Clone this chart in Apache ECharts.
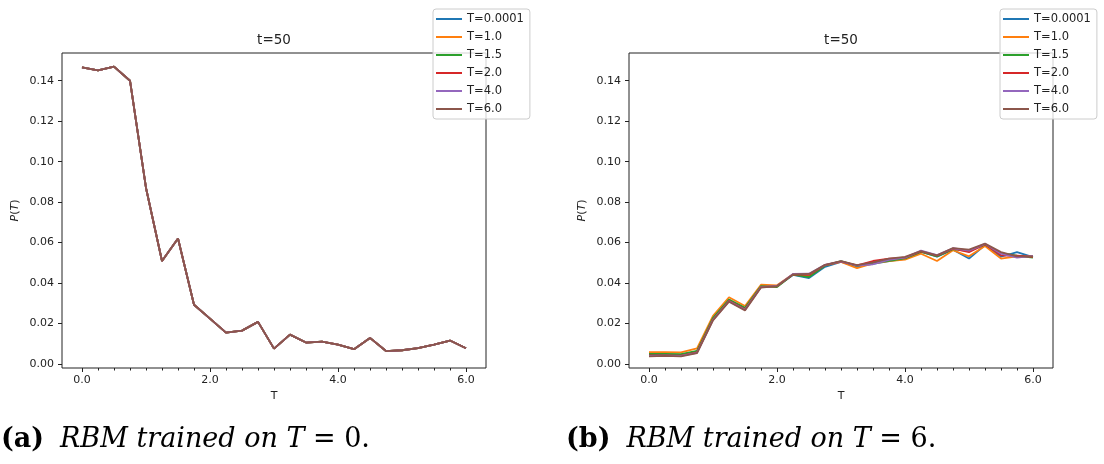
<!DOCTYPE html>
<html>
<head>
<meta charset="utf-8">
<script src="https://cdn.jsdelivr.net/npm/echarts@6/dist/echarts.min.js"></script>
<style>
html,body{margin:0;padding:0;background:#fff;}
#chart{width:1104px;height:464px;}
</style>
</head>
<body>
<div id="chart"></div>
<script>
// ---- data ----
const xs = [0,0.25,0.5,0.75,1.0,1.25,1.5,1.75,2.0,2.25,2.5,2.75,3.0,3.25,3.5,3.75,4.0,4.25,4.5,4.75,5.0,5.25,5.5,5.75,6.0];
const seriesNames = ['T=0.0001','T=1.0','T=1.5','T=2.0','T=4.0','T=6.0'];
const seriesColors = ['#1f77b4','#ff7f0e','#2ca02c','#d62728','#9467bd','#8c564b'];
const xTickLabels = [0,2,4,6];
const yTickLabels = [0,0.02,0.04,0.06,0.08,0.10,0.12,0.14];

// (a) RBM trained on T=0: all curves coincide
const leftCurve = [0.1466,0.1451,0.1470,0.1400,0.0870,0.0509,0.0620,0.0293,0.0224,0.0155,0.0165,0.0208,0.0076,0.0145,0.0106,0.0111,0.0096,0.0073,0.0129,0.0064,0.0068,0.0078,0.0096,0.0116,0.0078];

// (b) RBM trained on T=6
const right_T0001 = [0.0045,0.0046,0.0045,0.0062,0.0225,0.0316,0.0275,0.0383,0.0384,0.0440,0.0425,0.0480,0.0505,0.0482,0.0495,0.0509,0.0520,0.0555,0.0530,0.0565,0.0521,0.0588,0.0530,0.0553,0.0528];
const right_T1 = [0.0059,0.0059,0.0057,0.0077,0.0238,0.0330,0.0287,0.0392,0.0389,0.0443,0.0438,0.0488,0.0505,0.0474,0.0497,0.0509,0.0516,0.0545,0.0509,0.0562,0.0532,0.0583,0.0521,0.0532,0.0530];
const right_T15 = [0.0050,0.0050,0.0049,0.0065,0.0228,0.0318,0.0278,0.0385,0.0380,0.0442,0.0430,0.0486,0.0508,0.0485,0.0500,0.0510,0.0522,0.0554,0.0532,0.0568,0.0558,0.0590,0.0548,0.0535,0.0526];
const right_T2 = [0.0042,0.0043,0.0041,0.0058,0.0220,0.0312,0.0270,0.0381,0.0384,0.0443,0.0440,0.0489,0.0506,0.0487,0.0509,0.0521,0.0525,0.0557,0.0535,0.0570,0.0553,0.0592,0.0537,0.0535,0.0530];
const right_T4 = [0.0040,0.0041,0.0040,0.0055,0.0218,0.0310,0.0268,0.0380,0.0386,0.0445,0.0446,0.0490,0.0507,0.0486,0.0493,0.0515,0.0526,0.0560,0.0538,0.0572,0.0560,0.0594,0.0545,0.0526,0.0534];
const right_T6 = [0.0038,0.0040,0.0038,0.0054,0.0216,0.0308,0.0265,0.0378,0.0385,0.0443,0.0445,0.0490,0.0508,0.0489,0.0502,0.0521,0.0529,0.0558,0.0537,0.0573,0.0565,0.0595,0.0553,0.0532,0.0532];
const rightCurves = [right_T0001,right_T1,right_T15,right_T2,right_T4,right_T6];

// ---- chart ----
const FONT = 'DejaVu Sans';
const INK = '#222';
const chart = echarts.init(document.getElementById('chart'), null, {renderer:'canvas'});

function pairs(vals){ return xs.map((x,i)=>[x, vals[i]]); }

function xAxes(g){
  return [
    {gridIndex:g, type:'value', min:-0.3125, max:6.3125, position:'bottom',
     axisLine:{show:false, onZero:false}, splitLine:{show:false},
     axisTick:{show:true, customValues:xTickLabels, length:4, lineStyle:{color:INK, width:1}},
     axisLabel:{customValues:xTickLabels, formatter:v=>v.toFixed(1), margin:7, fontFamily:FONT, fontSize:11, color:INK},
     name:'T', nameLocation:'middle', nameGap:23, nameTextStyle:{fontFamily:FONT, fontSize:11, color:INK}},
    {gridIndex:g, type:'value', min:-0.3125, max:6.3125, position:'bottom',
     axisLine:{show:false, onZero:false}, splitLine:{show:false}, axisLabel:{show:false},
     axisTick:{show:true, customValues:xs, length:2.5, lineStyle:{color:INK, width:1}}}
  ];
}
function yAxis(g){
  return {gridIndex:g, type:'value', min:-0.00198, max:0.1537, position:'left',
    axisLine:{show:false, onZero:false}, splitLine:{show:false},
    axisTick:{show:true, customValues:yTickLabels, length:4, lineStyle:{color:INK, width:1}},
    axisLabel:{customValues:yTickLabels, formatter:v=>v.toFixed(2), margin:8, fontFamily:FONT, fontSize:11, color:INK},
    name:'{i|P}({i|T})', nameLocation:'middle', nameGap:41, nameRotate:90,
    nameTextStyle:{fontFamily:FONT, fontSize:11, color:INK, rich:{i:{fontStyle:'italic', fontFamily:FONT, fontSize:11, color:INK}}}};
}
function legend(left){
  return {left:left, top:9, orient:'vertical', icon:'rect', itemWidth:26, itemHeight:2, itemGap:4,
    data:seriesNames, padding:[3,6,3,3], borderColor:'#ccc', borderWidth:1, borderRadius:3,
    backgroundColor:'rgba(255,255,255,0.8)',
    textStyle:{fontFamily:FONT, fontSize:11.5, lineHeight:14, color:INK}};
}

const series = [];
seriesNames.forEach((n,i)=>{
  series.push({name:n, type:'line', xAxisIndex:0, yAxisIndex:0, data:pairs(leftCurve),
    symbol:'none', lineStyle:{color:seriesColors[i], width:1.8}, itemStyle:{color:seriesColors[i]}, z:2+i});
});
seriesNames.forEach((n,i)=>{
  series.push({name:n, type:'line', xAxisIndex:2, yAxisIndex:1, data:pairs(rightCurves[i]),
    symbol:'none', lineStyle:{color:seriesColors[i], width:1.8}, itemStyle:{color:seriesColors[i]}, z:2+i});
});

const capRich = {
  b:{fontFamily:'DejaVu Serif', fontWeight:'bold', fontSize:27, color:'#000'},
  g:{width:16},
  i:{fontFamily:'DejaVu Serif', fontStyle:'italic', fontSize:27, color:'#000'},
  r:{fontFamily:'DejaVu Serif', fontSize:27, color:'#000'}
};

chart.setOption({
  animation:false,
  backgroundColor:'#fff',
  grid:[
    {left:62, top:53, width:424, height:315, show:true, borderColor:INK, borderWidth:1, backgroundColor:'transparent'},
    {left:629, top:53, width:424, height:315, show:true, borderColor:INK, borderWidth:1, backgroundColor:'transparent'}
  ],
  xAxis:[...xAxes(0), ...xAxes(1)],
  yAxis:[yAxis(0), yAxis(1)],
  legend:[legend(433), legend(1000)],
  series:series,
  graphic:[
    {type:'text', x:274, y:40, style:{text:'t=50', fontFamily:FONT, fontSize:13.5, fill:INK, textAlign:'center', textVerticalAlign:'middle'}},
    {type:'text', x:841, y:40, style:{text:'t=50', fontFamily:FONT, fontSize:13.5, fill:INK, textAlign:'center', textVerticalAlign:'middle'}},
    {type:'text', x:1, y:440, style:{text:'{b|(a)}{g| }{i|RBM trained on T}{r| = 0.}', rich:capRich, textVerticalAlign:'middle', textAlign:'left'}},
    {type:'text', x:566, y:440, style:{text:'{b|(b)}{g| }{i|RBM trained on T}{r| = 6.}', rich:capRich, textVerticalAlign:'middle', textAlign:'left'}}
  ]
});
</script>
</body>
</html>
